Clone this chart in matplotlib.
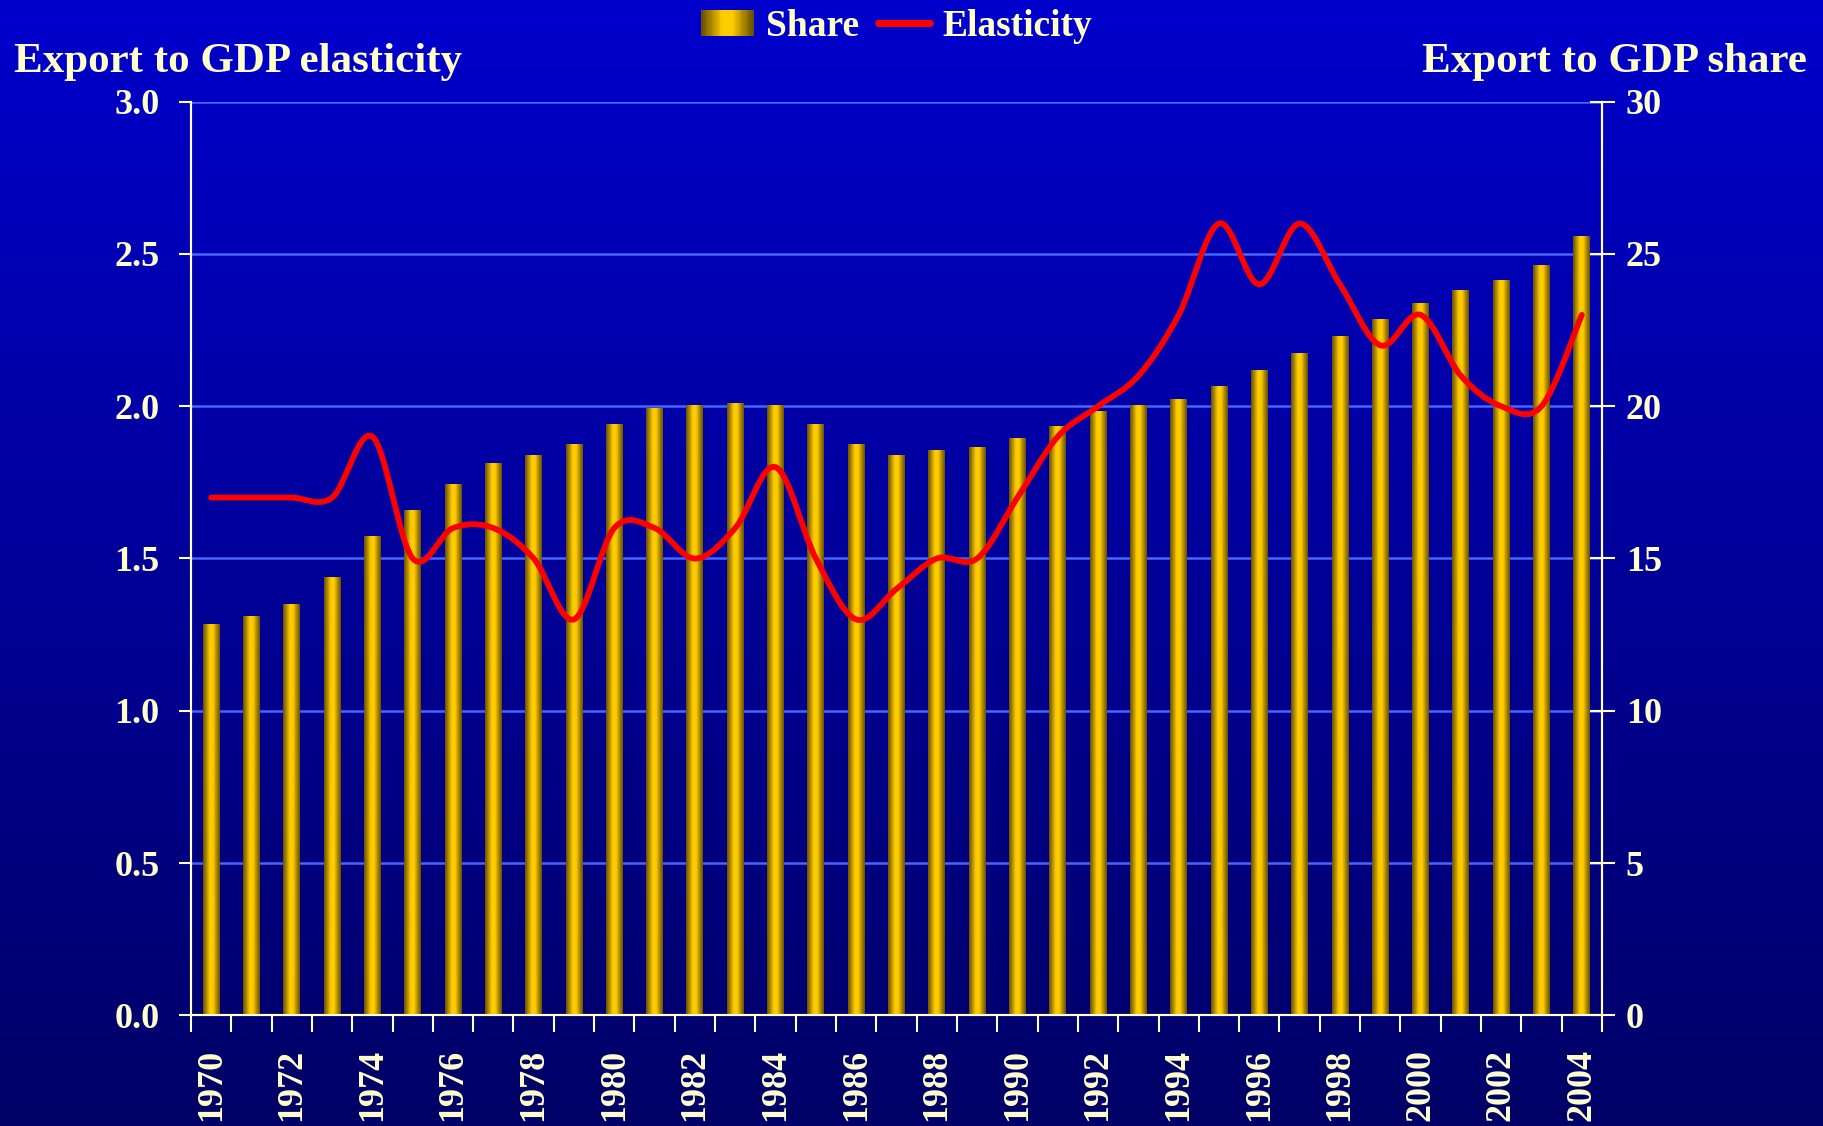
import numpy as np
import matplotlib

matplotlib.use("Agg")
import matplotlib.pyplot as plt
from matplotlib.colors import LinearSegmentedColormap
from matplotlib.legend_handler import HandlerBase
from matplotlib.lines import Line2D
from matplotlib.patches import PathPatch, Rectangle
from matplotlib.path import Path

years = list(range(1970, 2005))
share = [12.85, 13.1, 13.5, 14.4, 15.75, 16.6, 17.45, 18.15, 18.4, 18.75,
         19.4, 19.95, 20.05, 20.1, 20.05, 19.4, 18.75, 18.4, 18.55, 18.65,
         18.95, 19.35, 19.85, 20.05, 20.25, 20.65, 21.2, 21.75, 22.3, 22.85,
         23.4, 23.8, 24.15, 24.65, 25.6]
elasticity = [1.7, 1.7, 1.7, 1.7, 1.9, 1.5, 1.6, 1.6, 1.5, 1.3,
              1.6, 1.6, 1.5, 1.6, 1.8, 1.5, 1.3, 1.4, 1.5, 1.5,
              1.7, 1.9, 2.0, 2.1, 2.3, 2.6, 2.4, 2.6, 2.4, 2.2,
              2.3, 2.1, 2.0, 2.0, 2.3]
left_ticks = [0.0, 0.5, 1.0, 1.5, 2.0, 2.5, 3.0]
right_ticks = [0, 5, 10, 15, 20, 25, 30]

TXT = "#FFFFCC"
FONT = ["Liberation Serif", "DejaVu Serif"]
plt.rcParams["font.family"] = FONT
plt.rcParams["font.weight"] = "bold"

bar_cmap = LinearSegmentedColormap.from_list(
    "gold", ["#6A5200", "#B08C00", "#FFCC00", "#FFCC00", "#B08C00", "#6A5200"])


def smooth_path(xs, ys):
    # excel-like smoothed line: cubic bezier with catmull-rom control points
    p = np.column_stack([xs, ys]).astype(float)
    n = len(p)
    verts = [p[0]]
    codes = [Path.MOVETO]
    for i in range(n - 1):
        p0 = p[i - 1] if i > 0 else p[i]
        p1, p2 = p[i], p[i + 1]
        p3 = p[i + 2] if i + 2 < n else p[i + 1]
        verts += [p1 + (p2 - p0) / 6.0, p2 - (p3 - p1) / 6.0, p2]
        codes += [Path.CURVE4] * 3
    return Path(verts, codes)


class GradientHandler(HandlerBase):
    def create_artists(self, legend, orig_handle, xdescent, ydescent, width, height, fontsize, trans):
        n = 30
        arts = []
        for i in range(n):
            arts.append(Rectangle((-xdescent + width * i / n, -ydescent), width / n * 1.1, height,
                                  facecolor=bar_cmap(i / (n - 1)), edgecolor="none", transform=trans))
        return arts


fig = plt.figure(figsize=(18.24, 11.26), dpi=100)

# background gradient
bg = fig.add_axes([0, 0, 1, 1], zorder=-10)
grad = np.linspace(0, 1, 256).reshape(-1, 1)
bg_cmap = LinearSegmentedColormap.from_list("bg", ["#0000CC", "#000066"])
bg.imshow(grad, aspect="auto", cmap=bg_cmap, extent=(0, 1, 0, 1), origin="upper")
bg.set_axis_off()

ax = fig.add_axes([0.1047, 0.0983, 0.7736, 0.8114])
ax.set_facecolor("none")
ax.set_axisbelow(True)

bars = ax.bar(years, share, width=0.42, color="#E0B000", edgecolor="none", zorder=2)
g = np.linspace(0, 1, 64).reshape(1, -1)
for b in bars:
    x0, w, h = b.get_x(), b.get_width(), b.get_height()
    im = ax.imshow(g, cmap=bar_cmap, aspect="auto", extent=(x0, x0 + w, 0, h), zorder=3)
    im.set_clip_path(b)

ax.set_xlim(1969.5, 2004.5)
ax.set_ylim(0, 30)
ax.grid(axis="y", color="#4466FF", lw=1.8, zorder=0)

ax_el = ax.twinx()
ax.yaxis.tick_right()
ax.yaxis.set_label_position("right")
ax_el.yaxis.tick_left()
ax.set_yticks(right_ticks, [str(t) for t in right_ticks])
ax_el.set_ylim(0, 3.0)
ax_el.set_yticks(left_ticks, [f"{t:.1f}" for t in left_ticks])
ax_el.add_patch(PathPatch(smooth_path(years, elasticity), fill=False, edgecolor="#FF0000",
                          lw=4.2, capstyle="round", joinstyle="round", zorder=5))

bounds = [y - 0.5 for y in years] + [years[-1] + 0.5]
ax.set_xticks(bounds, [""] * len(bounds))
ax.set_xticks(years[::2], [str(y) for y in years[::2]], minor=True)
ax.tick_params(axis="x", which="major", direction="out", length=12, width=1.5, color=TXT)
ax.tick_params(axis="x", which="minor", length=0, pad=24, labelsize=26, labelcolor=TXT,
               labelrotation=90)
ax.tick_params(axis="y", which="major", direction="inout", length=18, width=1.5, color=TXT,
               labelsize=26, labelcolor=TXT, pad=8)
ax_el.tick_params(axis="y", which="major", direction="out", length=8.6, width=1.5, color=TXT,
                  labelsize=26, labelcolor=TXT, pad=14)

for a in (ax, ax_el):
    for s in a.spines.values():
        s.set_color(TXT)
        s.set_linewidth(1.5)
    a.spines["top"].set_visible(False)

for lbl in ax.get_xticklabels(minor=True):
    lbl.set_fontweight("bold")

fig.text(14 / 1824, 0.9363, "Export to GDP elasticity", color=TXT, fontsize=31,
         fontweight="bold", ha="left", va="baseline")
fig.text(1807 / 1824, 0.9363, "Export to GDP share", color=TXT, fontsize=31,
         fontweight="bold", ha="right", va="baseline")

share_handle = Rectangle((0, 0), 1, 1)
el_handle = Line2D([0], [0], color="#FF0000", lw=5, solid_capstyle="round")
leg = fig.legend([share_handle, el_handle], ["Share", "Elasticity"], loc="upper center",
                 bbox_to_anchor=(0.4915, 1.022), ncol=2, frameon=False, fontsize=27,
                 handlelength=1.4, handletextpad=0.32, columnspacing=0.5,
                 handler_map={Rectangle: GradientHandler()})
for t in leg.get_texts():
    t.set_color(TXT)
    t.set_fontweight("bold")

fig.savefig("out.png", dpi=100, facecolor="#0000CC")
